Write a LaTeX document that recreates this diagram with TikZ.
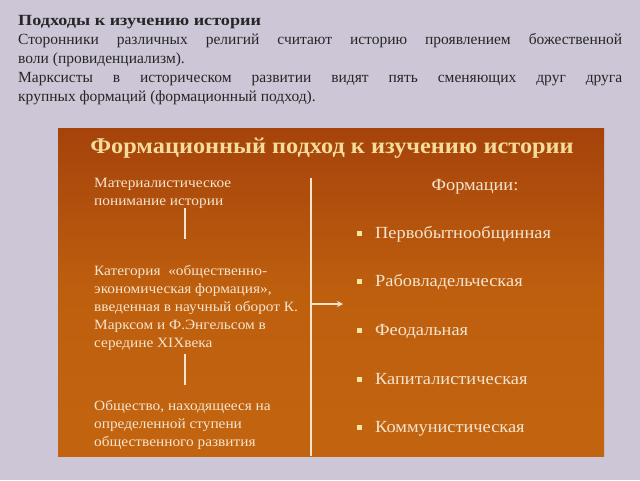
\documentclass[tikz,border=0pt]{standalone}
\usepackage{fontspec}
\setmainfont{Liberation Serif}
\newfontfamily\widefont{Liberation Serif}[FakeStretch=1.08]
\usetikzlibrary{positioning,arrows.meta}
\definecolor{bgcol}{HTML}{CDC6D6}
\definecolor{paneltop}{HTML}{A5430B}
\definecolor{panelbot}{HTML}{C2640F}
\definecolor{titlecol}{HTML}{F5DC9A}
\definecolor{txtcol}{HTML}{F5E5CF}
\definecolor{bulcol}{HTML}{F8E6A2}
\definecolor{introcol}{HTML}{262626}
\newcommand{\bul}{\raisebox{2.5pt}{\textcolor{bulcol}{\rule{5pt}{5pt}}}\hspace{13pt}}
\begin{document}
\begin{tikzpicture}[x=1pt,y=-1pt,
		lefttxt/.style={anchor=north west,inner sep=0pt,align=left,text=txtcol,
			font=\widefont\fontsize{14.2}{18}\selectfont},
		formtxt/.style={anchor=base west,inner sep=0pt,text=txtcol,
			font=\widefont\fontsize{17}{20}\selectfont},
		link/.style={draw=txtcol,line width=1.6pt}]
		\useasboundingbox[fill=bgcol] (0,0) rectangle (640,480);
		\shade[top color=paneltop,bottom color=panelbot,middle color=panelbot!85!paneltop] (58,128) rectangle (604,456);
		\node[anchor=north west,inner sep=0pt,text width=604pt,align=justify,text=introcol,
			font=\fontsize{15.5}{19}\selectfont] (intro) at (18,15)
			{{\addfontfeature{FakeStretch=1.17}\bfseries Подходы к изучению истории}\par
			Сторонники различных религий считают историю проявлением божественной\linebreak
			воли (провиденциализм).\par
			Марксисты в историческом развитии видят пять сменяющих друг друга\linebreak
			крупных формаций (формационный подход).};
		\node[text=titlecol,font=\widefont\fontsize{22.5}{26}\selectfont\bfseries] (title) at (332,148)
			{Формационный подход к изучению истории};
		\node[lefttxt] (mat) at (94,178) {Материалистическое\\понимание истории};
		\node[lefttxt] (kat) at (94,265) {Категория \ «общественно-\\экономическая формация»,\\
			введенная в научный оборот К.\\Марксом и Ф.Энгельсом в\\середине XIXвека};
		\node[lefttxt] (obs) at (94,400) {Общество, находящееся на\\определенной ступени\\общественного развития};
		\draw[link] (185,208) -- (185,239);
		\draw[link] (185,354) -- (185,385);
		\coordinate (top) at (311,178);
		\coordinate (bot) at (311,456);
		\coordinate (mid) at (311,304);
		\coordinate (tip) at (343,304);
		\draw[link] (top) -- (bot);
		\draw[link,-{Stealth[length=6pt,width=6pt]}] (mid) -- (tip);
		\node[text=txtcol,font=\widefont\fontsize{17}{20}\selectfont,anchor=base] (form) at (475,190) {Формации:};
		\foreach \name/\yy/\txt in {f1/238/Первобытнообщинная,f2/286/Рабовладельческая,
			f3/335/Феодальная,f4/384/Капиталистическая,f5/432/Коммунистическая}
			\node[formtxt] (\name) at (357,\yy) {\bul\txt};
	\end{tikzpicture}
\end{document}
